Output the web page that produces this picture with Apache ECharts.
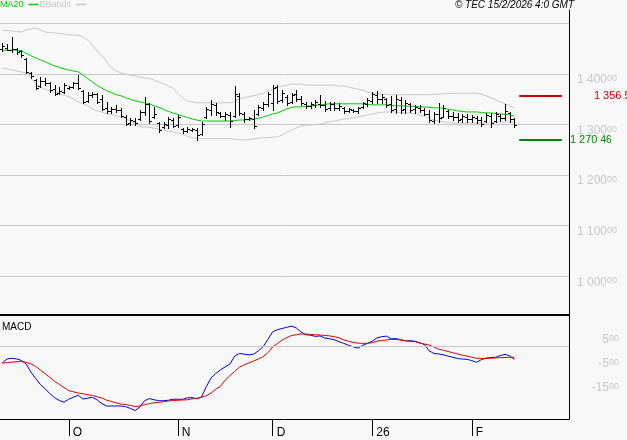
<!DOCTYPE html>
<html><head><meta charset="utf-8">
<script src="https://cdn.jsdelivr.net/npm/echarts@6/dist/echarts.min.js"></script>
<style>html,body{margin:0;padding:0;background:#f8f8f8;}#c{width:627px;height:440px;}</style>
</head><body><div id="c"></div>
<script>
const dates = [
'2025-09-11','2025-09-12','2025-09-15','2025-09-16','2025-09-17','2025-09-18','2025-09-19','2025-09-22','2025-09-23','2025-09-24','2025-09-25','2025-09-26','2025-09-29','2025-09-30',
'2025-10-01','2025-10-02','2025-10-03','2025-10-06','2025-10-07','2025-10-08','2025-10-09','2025-10-10','2025-10-13','2025-10-14','2025-10-15','2025-10-16','2025-10-17','2025-10-20','2025-10-21','2025-10-22','2025-10-23','2025-10-24','2025-10-27','2025-10-28','2025-10-29','2025-10-30','2025-10-31',
'2025-11-03','2025-11-04','2025-11-05','2025-11-06','2025-11-07','2025-11-10','2025-11-11','2025-11-12','2025-11-13','2025-11-14','2025-11-17','2025-11-18','2025-11-19','2025-11-20','2025-11-21','2025-11-24','2025-11-25','2025-11-26','2025-11-27','2025-11-28',
'2025-12-01','2025-12-02','2025-12-03','2025-12-04','2025-12-05','2025-12-08','2025-12-09','2025-12-10','2025-12-11','2025-12-12','2025-12-15','2025-12-16','2025-12-17','2025-12-18','2025-12-19','2025-12-22','2025-12-23','2025-12-24','2025-12-29','2025-12-30','2025-12-31',
'2026-01-02','2026-01-05','2026-01-06','2026-01-07','2026-01-08','2026-01-09','2026-01-12','2026-01-13','2026-01-14','2026-01-15','2026-01-16','2026-01-19','2026-01-20','2026-01-21','2026-01-22','2026-01-23','2026-01-26','2026-01-27','2026-01-28','2026-01-29','2026-01-30',
'2026-02-02','2026-02-03','2026-02-04','2026-02-05','2026-02-06','2026-02-09','2026-02-10','2026-02-11','2026-02-12','2026-02-13',
'2026-02-16','2026-02-17','2026-02-18','2026-02-19','2026-02-20','2026-02-23','2026-02-24','2026-02-25','2026-02-26','2026-02-27','2026-03-02'
];
const opens = [
1450,1452,1448,1450,1445,1430,1402,1388,1376,1386,
1382,1370,1362,1364,1372,1374,1382,1366,1347,1358,
1360,1350,1333,1327,1331,1329,1315,1303,1307,1311,
1325,1341,1315,1303,1295,1299,1309,1299,1291,1287,
1289,1289,1281,1315,1329,1339,1323,1317,1319,1317,
1356,1321,1311,1311,1321,1333,1341,1343,1374,1349,
1355,1345,1360,1351,1341,1337,1339,1341,1339,1333,
1341,1333,1333,1327,1329,1327,1335,1341,1347,1358,
1351,1351,1341,1331,1349,1331,1341,1331,1333,1329,
1321,1307,1321,1315,1327,1317,1315,1311,1315,1311,
1313,1309,1307,1317,1307,1317,1313,1323,1311];
const highs = [
1461,1459,1474,1451,1447,1432,1404,1390,1394,1392,
1384,1378,1374,1382,1376,1384,1398,1368,1364,1364,
1362,1358,1345,1335,1339,1333,1319,1313,1313,1329,
1355,1343,1335,1305,1305,1315,1313,1319,1293,1295,
1293,1293,1305,1335,1349,1343,1325,1325,1325,1376,
1362,1325,1315,1329,1339,1345,1364,1378,1378,1368,
1358,1362,1368,1357,1345,1345,1349,1358,1347,1345,
1345,1343,1335,1333,1331,1335,1345,1353,1364,1366,
1360,1353,1357,1358,1355,1349,1343,1339,1339,1333,
1329,1325,1343,1339,1329,1325,1323,1321,1321,1319,
1317,1315,1323,1323,1325,1321,1341,1325,1313];
const lows = [
1445,1447,1444,1440,1434,1402,1392,1370,1374,1378,
1364,1358,1360,1362,1370,1372,1370,1343,1345,1355,
1343,1329,1323,1323,1325,1315,1299,1299,1299,1309,
1319,1303,1313,1285,1293,1293,1295,1295,1283,1285,
1287,1270,1279,1313,1319,1319,1315,1309,1295,1315,
1319,1305,1309,1293,1319,1329,1337,1329,1343,1345,
1339,1343,1347,1339,1333,1333,1335,1335,1327,1329,
1329,1329,1323,1325,1325,1323,1333,1337,1343,1343,
1343,1335,1325,1323,1323,1323,1325,1323,1325,1319,
1305,1303,1305,1315,1313,1309,1305,1305,1305,1305,
1303,1297,1305,1295,1305,1307,1309,1305,1295];
const closes = [
1455,1448,1450,1444,1437,1404,1396,1372,1386,1382,
1368,1360,1366,1378,1374,1382,1372,1345,1358,1360,
1345,1331,1327,1331,1329,1317,1301,1309,1303,1325,
1341,1307,1321,1289,1301,1311,1297,1315,1287,1291,
1291,1279,1301,1331,1341,1325,1317,1321,1307,1360,
1323,1311,1313,1297,1335,1341,1360,1372,1347,1362,
1343,1358,1351,1343,1337,1341,1345,1339,1331,1341,
1333,1337,1327,1331,1327,1333,1343,1349,1360,1351,
1355,1339,1329,1351,1329,1343,1329,1335,1329,1321,
1309,1321,1313,1333,1317,1315,1309,1317,1311,1315,
1309,1301,1319,1303,1321,1313,1327,1311,1299];
const ma20 = [
1447,1447,1447,1447,1446,1441,1436,1432,1428,1424,
1420,1416,1413,1410,1408,1406,1404,1398,1391,1384,
1377,1372,1367,1363,1359,1357,1353,1350,1347,1345,
1343,1341,1337,1334,1330,1326,1323,1320,1317,1314,
1311,1309,1307,1307,1307,1307,1307,1307,1307,1308,
1309,1309,1310,1311,1312,1315,1318,1321,1323,1327,
1331,1334,1335,1335,1336,1337,1338,1339,1340,1341,
1341,1341,1341,1341,1341,1341,1341,1340,1339,1339,
1339,1339,1338,1337,1337,1337,1336,1336,1335,1335,
1334,1333,1333,1332,1330,1329,1327,1326,1325,1325,
1325,1324,1323,1323,1322,1321,1320,1319,1317];
const bbUpper = [
1487,1486,1485,1484,1483,1487,1489,1491,1487,1483,
1482,1481,1480,1479,1478,1477,1477,1473,1467,1457,
1445,1436,1424,1412,1406,1402,1400,1398,1396,1394,
1392,1391,1388,1384,1381,1376,1372,1362,1353,1347,
1345,1343,1343,1343,1343,1343,1343,1343,1343,1345,
1351,1353,1355,1357,1359,1362,1366,1370,1374,1376,
1378,1380,1380,1380,1378,1378,1378,1378,1378,1378,
1378,1376,1376,1374,1372,1370,1368,1364,1362,1361,
1360,1360,1359,1359,1359,1359,1359,1359,1359,1359,
1359,1360,1360,1361,1362,1362,1362,1362,1362,1362,
1362,1360,1357,1353,1349,1345,1341,1337,1333];
const bbLower = [
1412,1410,1408,1406,1404,1402,1392,1380,1374,1370,
1366,1364,1362,1358,1355,1351,1345,1341,1337,1331,
1327,1325,1321,1319,1317,1315,1313,1307,1301,1297,
1295,1294,1293,1291,1289,1287,1285,1283,1281,1277,
1274,1272,1272,1272,1272,1272,1272,1272,1272,1271,
1270,1270,1270,1272,1273,1274,1274,1275,1276,1279,
1285,1289,1293,1297,1299,1299,1300,1301,1303,1305,
1307,1309,1311,1312,1313,1315,1317,1319,1321,1323,
1324,1325,1325,1325,1324,1323,1323,1321,1319,1317,
1313,1309,1307,1305,1304,1303,1303,1303,1303,1303,
1303,1303,1303,1303,1304,1305,1305,1305,1305];
const macd = [
-700,-540,-510,-540,-600,-750,-1080,-1350,-1600,-1780,
-1980,-2150,-2270,-2340,-2220,-2130,-2050,-2210,-2170,-2140,
-2250,-2400,-2500,-2500,-2500,-2500,-2530,-2600,-2690,-2540,
-2280,-2190,-2240,-2280,-2280,-2260,-2220,-2220,-2220,-2160,
-2150,-2200,-2120,-1700,-1330,-1150,-990,-870,-750,-420,
-310,-340,-370,-340,-200,-30,280,590,680,730,
780,830,750,580,470,450,400,420,330,300,
260,180,110,30,-30,-90,30,110,200,340,
390,410,300,310,260,220,220,200,140,60,
-200,-310,-330,-370,-420,-470,-520,-545,-555,-610,
-680,-570,-510,-480,-470,-400,-350,-410,-560];
const signal = [
-720,-690,-670,-655,-650,-680,-740,-850,-1000,-1150,
-1300,-1470,-1600,-1730,-1860,-1910,-1960,-1990,-2030,-2060,
-2120,-2170,-2260,-2310,-2370,-2420,-2440,-2480,-2520,-2500,
-2440,-2400,-2370,-2350,-2320,-2290,-2270,-2260,-2250,-2240,
-2200,-2180,-2140,-2070,-1960,-1800,-1680,-1420,-1230,-1060,
-880,-790,-700,-620,-540,-440,-280,-40,100,250,
350,440,470,500,500,480,470,458,440,420,
390,340,250,200,150,120,110,110,140,200,
230,250,275,270,250,220,190,180,120,80,
40,-40,-130,-180,-230,-280,-330,-380,-420,-470,
-510,-515,-515,-510,-500,-485,-478,-472,-470];
const tickDates = ['2025-10-01','2025-11-03','2025-12-01','2026-01-02','2026-02-02'];
const tickLabels = ['O','N','D','26','F'];
const priceTicks = [1000,1100,1200,1300,1400];
const macdTicks = [500,-500,-1500];
const resistance = 1356.5;
const support = 1270.46;
const levelStart = '2026-02-16';
const levelEnd = '2026-02-27';

const FONT = 'Liberation Sans';
const GRAY = '#c8c8c8';
function grp(n){ return String(n).replace(/\B(?=(\d{3})+(?!\d))/g,' '); }
function priceLabel(v){ return priceTicks.indexOf(v) < 0 ? '' : '{m|' + grp(v) + '}{s|00}'; }
function macdLabel(v){ return macdTicks.indexOf(v) < 0 ? '' : '{m|' + (v/100) + '}{s|00}'; }
function levelLabel(v){ const ip = Math.floor(v); const d = Math.round((v-ip)*100); return '{m|' + grp(ip) + ' }{s|' + String(d).padStart(2,'0') + '}'; }
const axisRich = { m:{fontSize:12, color:GRAY, fontFamily:FONT}, s:{fontSize:9, color:GRAY, fontFamily:FONT, verticalAlign:'top'} };
function isTick(i, v){ return tickDates.indexOf(v) >= 0; }

const ohlc = opens.map((o,i)=>[i, o, highs[i], lows[i], closes[i]]);

const chart = echarts.init(document.getElementById('c'), null, {renderer:'canvas'});
chart.setOption({
  animation:false,
  backgroundColor:'#f8f8f8',
  textStyle:{fontFamily:FONT},
  title:[
    {text:'\u00a9 TEC 15/2/2026 4:0 GMT', right:53, top:0, padding:0,
     textStyle:{fontSize:10, fontStyle:'italic', fontWeight:'normal', color:'#000', fontFamily:FONT}},
    {text:'MACD', left:2, top:322, padding:0,
     textStyle:{fontSize:10, fontWeight:'normal', color:'#000', fontFamily:FONT}}
  ],
  legend:{left:0, top:0, padding:0, align:'right', itemWidth:10, itemHeight:1.5, itemGap:1, icon:'rect',
    textStyle:{fontSize:9, fontFamily:FONT, padding:[0,0,0,0]},
    data:[{name:'MA20', textStyle:{color:'#00cc00'}}, {name:'BBands', textStyle:{color:GRAY}}]},
  grid:[
    {left:0, right:58, top:10, height:305},
    {left:0, right:58, top:315, height:104}
  ],
  xAxis:[
    {type:'category', gridIndex:0, data:dates, boundaryGap:true,
     axisLine:{show:true, onZero:false, lineStyle:{color:'#000', width:2}}, axisTick:{show:false}, axisLabel:{show:false}, splitLine:{show:false}},
    {type:'category', gridIndex:1, data:dates, boundaryGap:true,
     axisLine:{show:true, onZero:false, lineStyle:{color:'#000', width:1}},
     axisTick:{show:true, alignWithLabel:true, interval:isTick, length:17, lineStyle:{color:'#000'}},
     axisLabel:{show:true, interval:isTick, align:'left', margin:8, padding:[0,0,0,4], fontSize:12, color:'#000', fontFamily:FONT,
       formatter:v=>{const k=tickDates.indexOf(v); return k<0?'':tickLabels[k];}},
     splitLine:{show:false}}
  ],
  yAxis:[
    {type:'value', gridIndex:0, position:'right', min:923.5, max:1526.5, minInterval:100, maxInterval:100,
     axisLine:{show:true, lineStyle:{color:'#000', width:1}}, axisTick:{show:false},
     axisLabel:{show:true, showMinLabel:false, showMaxLabel:false, margin:8, align:'left', verticalAlign:'top', formatter:priceLabel, rich:axisRich},
     splitLine:{show:true, showMinLine:false, showMaxLine:false, lineStyle:{color:GRAY, width:1}}},
    {type:'value', gridIndex:1, position:'right', min:-3042, max:1292, minInterval:500, maxInterval:500,
     axisLine:{show:true, lineStyle:{color:'#000', width:1}}, axisTick:{show:false},
     axisLabel:{show:true, showMinLabel:false, showMaxLabel:false, margin:50, align:'right', verticalAlign:'top', formatter:macdLabel, rich:axisRich},
     splitLine:{show:false}}
  ],
  series:[
    {name:'BBands', type:'line', xAxisIndex:0, yAxisIndex:0, data:bbUpper, showSymbol:false, symbol:'none', color:GRAY, lineStyle:{color:GRAY, width:1}, z:2},
    {name:'BBands', type:'line', xAxisIndex:0, yAxisIndex:0, data:bbLower, showSymbol:false, symbol:'none', color:GRAY, lineStyle:{color:GRAY, width:1}, z:2},
    {name:'MA20', type:'line', xAxisIndex:0, yAxisIndex:0, data:ma20, showSymbol:false, symbol:'none', color:'#00cc00', lineStyle:{color:'#00cc00', width:1}, z:3,
     markLine:{silent:true, symbol:'none', animation:false,
       label:{show:true, position:'end', fontFamily:FONT},
       data:[
         [{coord:[levelStart, resistance], lineStyle:{color:'#cc0000', width:2, type:'solid'},
           label:{show:true, position:'end', distance:32, formatter:levelLabel(resistance),
             rich:{m:{fontSize:11, color:'#cc0000', fontFamily:FONT}, s:{fontSize:11, color:'#cc0000', fontFamily:FONT}}}},
          {coord:[levelEnd, resistance]}],
         [{coord:[levelStart, support], lineStyle:{color:'#008800', width:2, type:'solid'},
           label:{show:true, position:'end', distance:8, formatter:levelLabel(support),
             rich:{m:{fontSize:11, color:'#008800', fontFamily:FONT}, s:{fontSize:10, color:'#008800', fontFamily:FONT, verticalAlign:'bottom'}}}},
          {coord:[levelEnd, support]}]
       ]}},
    {name:'Prix', type:'custom', xAxisIndex:0, yAxisIndex:0, data:ohlc, encode:{x:0, y:[1,2,3,4]}, z:4,
     renderItem:function(params, api){
       const i = api.value(0);
       const pH = api.coord([i, api.value(2)]);
       const pL = api.coord([i, api.value(3)]);
       const pO = api.coord([i, api.value(1)]);
       const pC = api.coord([i, api.value(4)]);
       const x = Math.round(pH[0]) + 0.5;
       const yo = Math.round(pO[1]) + 0.5, yc = Math.round(pC[1]) + 0.5;
       const st = {stroke:'#000', lineWidth:1};
       return {type:'group', children:[
         {type:'line', shape:{x1:x, y1:Math.round(pH[1]), x2:x, y2:Math.round(pL[1])+1}, style:st},
         {type:'line', shape:{x1:x-2.5, y1:yo, x2:x, y2:yo}, style:st},
         {type:'line', shape:{x1:x, y1:yc, x2:x+2.5, y2:yc}, style:st}
       ]};
     }},
    {name:'MACD', type:'line', xAxisIndex:1, yAxisIndex:1, data:macd, showSymbol:false, symbol:'none', color:'#0000dd', lineStyle:{color:'#0000dd', width:1}, z:3,
     markLine:{silent:true, symbol:'none', label:{show:false}, lineStyle:{color:GRAY, width:1, type:'solid'}, data:[{yAxis:0}]}},
    {name:'Signal', type:'line', xAxisIndex:1, yAxisIndex:1, data:signal, showSymbol:false, symbol:'none', color:'#dd0000', lineStyle:{color:'#dd0000', width:1}, z:4}
  ]
});
</script>
</body></html>
